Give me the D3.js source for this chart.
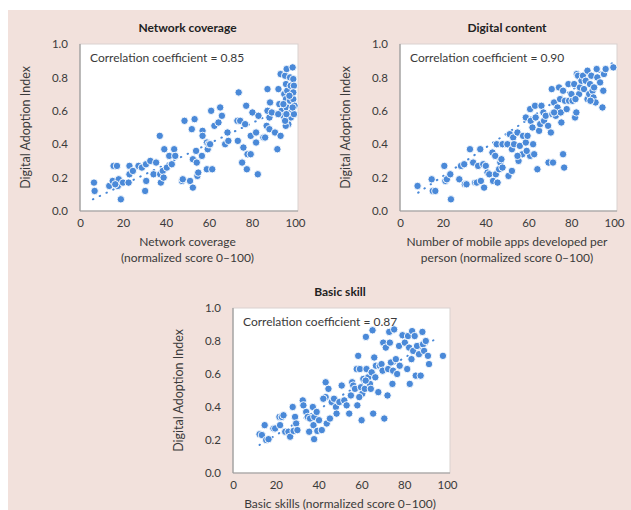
<!DOCTYPE html>
<html><head><meta charset="utf-8">
<script src="https://cdn.jsdelivr.net/npm/d3@7"></script>
<style>
html,body{margin:0;padding:0;background:#fff;}
svg{display:block;font-family:Lato,"Open Sans",sans-serif;}
</style></head>
<body>
<svg id="chart" width="631" height="510"></svg>
<script>
// ---------- DATA ----------
const yTicks = [0, 0.2, 0.4, 0.6, 0.8, 1.0];
const xTicks = [0, 20, 40, 60, 80, 100];
const titles = ["Network coverage", "Digital content", "Basic skill"];
const corrLabels = ["Correlation coefficient = 0.85", "Correlation coefficient = 0.90", "Correlation coefficient = 0.87"];
const xTitles = [["Network coverage", "(normalized score 0\u2013100)"],
                 ["Number of mobile apps developed per", "person (normalized score 0\u2013100)"],
                 ["Basic skills (normalized score 0\u2013100)"]];
const yTitle = "Digital Adoption Index";

const networkX = [6.5,6.8,13.6,15.6,17.2,15.2,17.6,18,19,20,16.4,22.6,23,23,24.6,27.2,28.8,30.7,30.8,30.3,32.7,34.2,35.4,37.1,37.3,37.6,38.5,38.9,39.2,40.4,41.5,42.7,43.8,44.3,47.4,47.8,48.6,51.2,52,52.5,52.5,53.3,54,54.3,54.6,55,56.7,57,57,59,59,59.4,59.8,60.5,61,61.5,62.5,64.4,65.2,66,67.5,68.6,69,73.2,73.8,73.4,74.5,75.4,76,76.8,77.3,77.6,77.9,79.4,79.4,80.2,81.9,81.9,82.7,83,85.3,86.1,86.8,87.2,87.2,88.1,88.4,88.1,89.2,90.7,91.8,92.3,92.7,93.3,93.3,93.8,94.6,95,95.4,95.8,95.8,96.1,96.1,96.4,96.9,96.9,97.7,98,97.7,98.1,98.5,98.9,99.2,99.2,99.5,99.5,99.2,99.8,95.7,95.4,94.6,97.4,98.9,96,92.2];
const networkY = [0.17,0.12,0.15,0.27,0.27,0.18,0.15,0.19,0.07,0.17,0.16,0.17,0.27,0.22,0.24,0.27,0.26,0.28,0.18,0.12,0.30,0.22,0.29,0.45,0.22,0.17,0.24,0.20,0.37,0.26,0.33,0.28,0.37,0.33,0.18,0.19,0.54,0.18,0.49,0.31,0.14,0.55,0.36,0.29,0.21,0.23,0.33,0.48,0.45,0.41,0.25,0.37,0.40,0.40,0.60,0.25,0.51,0.53,0.62,0.57,0.40,0.47,0.42,0.54,0.71,0.42,0.54,0.29,0.38,0.52,0.63,0.25,0.34,0.34,0.45,0.59,0.47,0.41,0.22,0.57,0.44,0.44,0.51,0.73,0.60,0.49,0.65,0.56,0.59,0.47,0.37,0.73,0.64,0.82,0.45,0.60,0.57,0.70,0.81,0.76,0.67,0.85,0.62,0.72,0.58,0.52,0.80,0.75,0.66,0.56,0.60,0.86,0.79,0.67,0.58,0.75,0.71,0.63,0.51,0.54,0.64,0.69,0.62,0.58,0.58];
const networkTrend = [[6, 0.07], [100, 0.65]];

const contentX = [8.2,14.8,15.3,16.5,20.7,21.2,21.9,23.5,23.8,27.7,28.5,30,30.3,31.1,32.7,34.2,35.1,35.9,36.5,37.5,37.8,38.9,39.3,40.1,40.9,41.7,43.2,43.5,44.5,44.8,45.2,45.6,46.3,46.9,47.4,47.9,47.9,50.2,50.7,51.3,52.3,52.3,52.9,53.3,54.9,55.4,56,57.2,57.5,58.8,58.8,59.6,60.8,60.8,61.1,61.9,62.2,62.7,63.1,63.4,64.2,65,65.5,66.1,67,67.3,68.1,69.2,69.4,70.5,70.9,71.2,71.5,72,72.8,73.6,74.3,74.8,75.1,75.4,76.2,76.2,76.7,77.1,77.9,78.7,79,80.1,80.6,81.4,81.8,82.4,82.6,83.2,83.7,84.1,84.8,85.5,86,86.8,87.6,87.6,88.4,88.8,89.4,90,90.4,90.7,91.4,91.9,92.2,93.5,94.6,95,95.3,96.1,99.7,59.2,72,82,89,54.9];
const contentY = [0.15,0.19,0.12,0.12,0.27,0.18,0.19,0.22,0.07,0.19,0.27,0.28,0.16,0.16,0.37,0.29,0.17,0.17,0.27,0.37,0.18,0.28,0.14,0.27,0.23,0.22,0.35,0.18,0.33,0.22,0.40,0.17,0.25,0.29,0.31,0.40,0.26,0.40,0.21,0.46,0.37,0.24,0.44,0.40,0.47,0.30,0.39,0.34,0.45,0.41,0.56,0.45,0.33,0.61,0.54,0.50,0.40,0.34,0.63,0.56,0.25,0.48,0.52,0.63,0.59,0.54,0.57,0.51,0.29,0.47,0.73,0.58,0.29,0.65,0.57,0.62,0.74,0.67,0.59,0.53,0.72,0.34,0.26,0.66,0.61,0.76,0.66,0.70,0.66,0.76,0.56,0.59,0.82,0.81,0.70,0.74,0.78,0.81,0.73,0.78,0.84,0.67,0.70,0.76,0.81,0.72,0.68,0.74,0.65,0.85,0.80,0.77,0.62,0.72,0.82,0.85,0.86,0.36,0.59,0.67,0.66,0.33];
const contentTrend = [[8.5, 0.11], [99.7, 0.89]];

const skillX = [12.4,13.5,14.8,15.5,16.6,18.9,19.7,21.7,22.8,23.6,24.4,25.9,26.7,27.9,28.3,29,29.5,30.1,32.6,32.9,34.2,34.9,35.6,36,37.3,37.6,37.9,38,39.1,39.4,40.2,41.5,43.3,43.3,43.8,44.6,45.3,46.1,47.2,48.1,48.4,49.7,50.8,52,54.3,55.1,55.7,56.2,57,57.8,58.1,58.5,59.3,59.8,60.1,60.4,60.9,61.6,62.1,62.4,63.2,64,64.8,65.2,65.5,66,66.5,66.8,67.9,68.6,69.4,69.9,70.2,70.7,71.4,72.2,72.5,73,73.3,73.8,74.5,74.8,75.3,76.1,76.7,77.6,77.9,79.2,80.3,81.4,81.8,82.3,82.6,83.4,83.7,84.2,84.9,85.4,86,86.9,87.7,88.5,88.8,89.3,90.1,91.1,91.6,98.1,62,64.4,59,53.1,42.2,22];
const skillY = [0.235,0.23,0.29,0.20,0.205,0.27,0.27,0.34,0.34,0.35,0.25,0.25,0.22,0.40,0.255,0.34,0.30,0.26,0.44,0.41,0.37,0.34,0.25,0.33,0.40,0.29,0.205,0.34,0.37,0.255,0.32,0.26,0.55,0.46,0.30,0.51,0.33,0.43,0.45,0.40,0.36,0.43,0.53,0.44,0.36,0.47,0.55,0.53,0.51,0.63,0.41,0.71,0.63,0.52,0.32,0.48,0.57,0.51,0.825,0.63,0.58,0.54,0.61,0.865,0.36,0.70,0.58,0.65,0.49,0.65,0.66,0.62,0.79,0.33,0.76,0.47,0.63,0.855,0.79,0.67,0.54,0.62,0.87,0.69,0.60,0.77,0.65,0.835,0.79,0.63,0.83,0.76,0.54,0.69,0.86,0.74,0.83,0.59,0.77,0.72,0.59,0.855,0.78,0.74,0.80,0.71,0.66,0.71,0.56,0.51,0.46,0.41,0.45,0.29];
const skillTrend = [[12.4, 0.17], [96.3, 0.825]];

// ---------- LAYOUT ----------
const panels = [
  {x: networkX, y: networkY, trend: networkTrend, left: 80, top: 44, w: 215, h: 167},
  {x: contentX, y: contentY, trend: contentTrend, left: 400, top: 44, w: 214, h: 167},
  {x: skillX, y: skillY, trend: skillTrend, left: 233, top: 308, w: 214, h: 165}
];

const svg = d3.select("#chart");
svg.append("rect").attr("x", 8).attr("y", 10).attr("width", 623).attr("height", 500).attr("fill", "#f2e1dc");

const dotColor = "#4a89d8";
const textColor = "#3a3a3a";

panels.forEach((p, i) => {
  const xs = d3.scaleLinear().domain([0, 100]).range([p.left, p.left + p.w]);
  const ys = d3.scaleLinear().domain([0, 1]).range([p.top + p.h, p.top]);
  const g = svg.append("g");

  // plot background
  g.append("rect").attr("x", p.left).attr("y", p.top).attr("width", p.w + 3).attr("height", p.h)
    .attr("fill", "#fff").attr("stroke", "#d9d2cf").attr("stroke-width", 1);

  // axes
  const xAxis = d3.axisBottom(xs).tickValues(xTicks).tickSize(0).tickPadding(8).tickFormat(d3.format("d"));
  const yAxis = d3.axisLeft(ys).tickValues(yTicks).tickSize(0).tickPadding(12).tickFormat(d3.format(".1f"));
  const gx = g.append("g").attr("transform", `translate(0,${p.top + p.h})`).call(xAxis);
  const gy = g.append("g").attr("transform", `translate(${p.left},0)`).call(yAxis);
  [gx, gy].forEach(a => {
    a.select(".domain").attr("stroke", "#9a9a9a").attr("stroke-width", 1.2);
    a.selectAll("text").attr("fill", textColor).style("font-size", "11.5px").style("font-family", "Lato, sans-serif");
  });
  gy.select(".domain").attr("d", `M0,${p.top + p.h}V${p.top}`);
  gx.select(".domain").attr("d", `M${p.left},0H${p.left + p.w + 3}`);

  // trend line
  g.append("line")
    .attr("x1", xs(p.trend[0][0])).attr("y1", ys(p.trend[0][1]))
    .attr("x2", xs(p.trend[1][0])).attr("y2", ys(p.trend[1][1]))
    .attr("stroke", dotColor).attr("stroke-width", 2).attr("stroke-linecap", "round")
    .attr("stroke-dasharray", "0.5,7");

  // points
  g.selectAll("circle.pt").data(p.x.map((v, k) => [v, p.y[k]])).join("circle")
    .attr("class", "pt")
    .attr("cx", d => xs(d[0])).attr("cy", d => ys(d[1])).attr("r", 3.7)
    .attr("fill", dotColor).attr("stroke", "#fff").attr("stroke-width", 0.9);

  // correlation label
  g.append("text").attr("x", p.left + 10).attr("y", p.top + 18)
    .attr("fill", textColor).style("font-size", "12px").text(corrLabels[i]);

  // title
  g.append("text").attr("x", p.left + p.w / 2).attr("y", p.top - 12).attr("text-anchor", "middle")
    .attr("fill", "#222").style("font-size", "12px").style("font-weight", "bold").text(titles[i]);

  // y title
  g.append("text").attr("transform", `translate(${p.left - 53},${p.top + p.h / 2}) rotate(-90)`)
    .attr("text-anchor", "middle").attr("dominant-baseline", "middle")
    .attr("fill", textColor).style("font-size", "12.5px").text(yTitle);

  // x title
  xTitles[i].forEach((line, j) => {
    g.append("text").attr("x", p.left + p.w / 2).attr("y", p.top + p.h + 35 + j * 16)
      .attr("text-anchor", "middle").attr("fill", textColor).style("font-size", "12px").text(line);
  });
});
</script>
</body></html>
